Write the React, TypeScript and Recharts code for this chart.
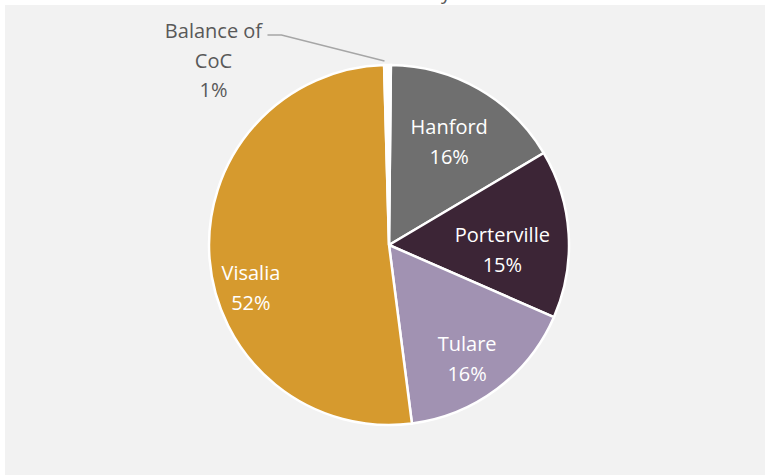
import React from "react";
import { PieChart, Pie, Cell } from "recharts";

const cities: string[] = ["Hanford", "Porterville", "Tulare", "Visalia", "Balance of CoC"];
const shares: number[] = [16.3, 15.1, 16.4, 51.6, 0.6];
const colors: string[] = ["#6f6f6f", "#3c2536", "#a192b2", "#d69a2e", "#ffffff"];

const data = cities.map((name, i) => ({ name, value: shares[i] }));

const FONT = "'Open Sans', 'Noto Sans', sans-serif";
const RAD = Math.PI / 180;

// per-slice label placement (radius fraction, angle shift in degrees)
const placement = [
  { f: 0.67, d: 0 },
  { f: 0.63, d: -5 },
  { f: 0.76, d: -2 },
  { f: 0.8, d: 12 },
  { f: 1, d: 0 },
];

const renderLabel = (props: any) => {
  const { cx, cy, midAngle, outerRadius, index, percent } = props;
  const pct = `${Math.round(percent * 100)}%`;
  const name = cities[index];
  if (index === 4) {
    const ex = cx + (outerRadius + 2) * Math.cos(-midAngle * RAD) - 3;
    const ey = cy + (outerRadius + 2) * Math.sin(-midAngle * RAD) - 2;
    const bx = ex - 103;
    const by = ey - 26;
    const sx = bx - 14;
    const tx = sx - 54;
    const ty = by + 3;
    return (
      <g>
        <polyline
          points={`${sx},${by} ${bx},${by} ${ex},${ey}`}
          fill="none"
          stroke="#a6a6a6"
          strokeWidth={1.5}
        />
        <text x={tx} y={ty} textAnchor="middle" fill="#595959" fontSize={20} fontFamily={FONT}>
          <tspan x={tx} y={ty}>Balance of</tspan>
          <tspan x={tx} y={ty + 30}>CoC</tspan>
          <tspan x={tx} y={ty + 59}>{pct}</tspan>
        </text>
      </g>
    );
  }
  const p = placement[index];
  const a = (midAngle + p.d) * RAD;
  const r = outerRadius * p.f;
  const x = cx + r * Math.cos(-a);
  const y = cy + r * Math.sin(-a);
  return (
    <text x={x} y={y} textAnchor="middle" fill="#ffffff" fontSize={20} fontFamily={FONT}>
      <tspan x={x} y={y - 6}>{name}</tspan>
      <tspan x={x} y={y + 24}>{pct}</tspan>
    </text>
  );
};

export default function App() {
  return (
    <div style={{ position: "absolute", left: 0, top: 0, width: 765, height: 475, background: "#ffffff", overflow: "hidden" }}>
      <div style={{ position: "absolute", left: 5, top: 5, width: 760, height: 470, background: "#f2f2f2" }} />
      <svg style={{ position: "absolute", left: 0, top: 0 }} width={765} height={10}>
        <text x={441} y={-1} fill="#595959" fontSize={20} fontFamily={FONT}>y</text>
      </svg>
      <div style={{ position: "absolute", left: 0, top: 0 }}>
        <PieChart width={765} height={475} margin={{ top: 0, right: 0, bottom: 0, left: 0 }}>
          <Pie
            data={data}
            dataKey="value"
            nameKey="name"
            cx={389}
            cy={245}
            outerRadius={180}
            startAngle={89.4}
            endAngle={-270.6}
            stroke="#ffffff"
            strokeWidth={2.5}
            label={renderLabel}
            labelLine={false}
            isAnimationActive={false}
          >
            {data.map((d, i) => (
              <Cell key={d.name} fill={colors[i]} />
            ))}
          </Pie>
        </PieChart>
      </div>
    </div>
  );
}
